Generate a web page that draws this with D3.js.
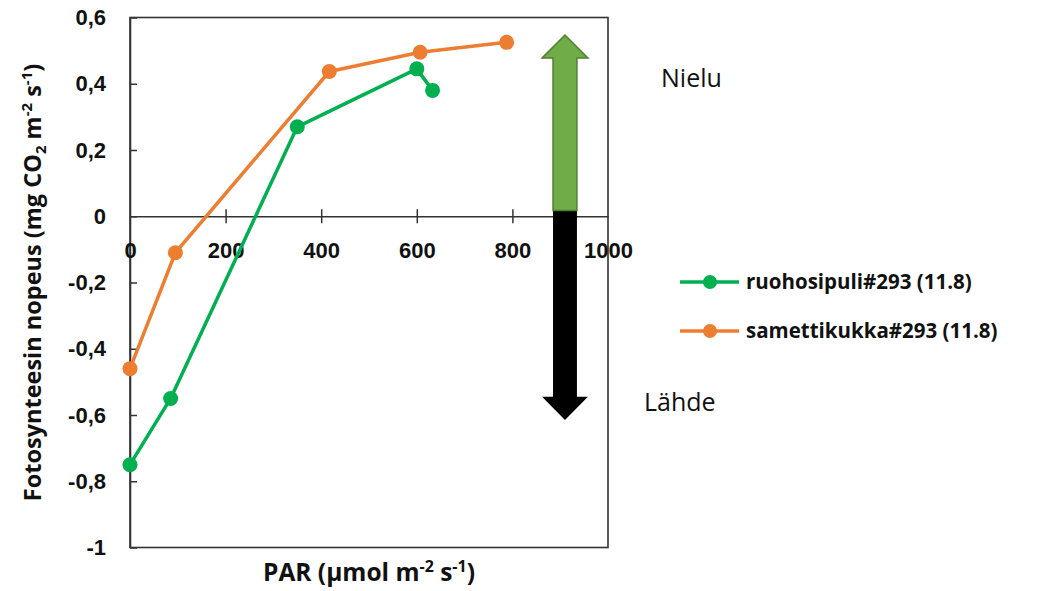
<!DOCTYPE html>
<html>
<head>
<meta charset="utf-8">
<script src="https://cdn.jsdelivr.net/npm/d3@7"></script>
<style>
  body { margin: 0; background: #fff; }
  svg { font-family: "Open Sans", Lato, sans-serif; }
</style>
</head>
<body>
<div id="chart"></div>
<script>
// series data
const seriesNames = ['ruohosipuli#293 (11.8)', 'samettikukka#293 (11.8)']
const seriesColors = ['#00B050', '#ED7D31']
const ruohoPAR = [0, 85, 350, 600, 633]
const ruohoRate = [-0.75, -0.55, 0.27, 0.445, 0.38]
const samettiPAR = [0, 95, 417, 607, 788]
const samettiRate = [-0.46, -0.11, 0.437, 0.495, 0.525]

// axis ticks
const xTicks = [0, 200, 400, 600, 800, 1000]
const yTicks = [0.6, 0.4, 0.2, 0, -0.2, -0.4, -0.6, -0.8, -1]
const yTickLabels = ['0,6', '0,4', '0,2', '0', '-0,2', '-0,4', '-0,6', '-0,8', '-1']

const width = 1043, height = 591
const svg = d3.select('#chart').append('svg')
  .attr('width', width).attr('height', height)

const x = d3.scaleLinear().domain([0, 1000]).range([130, 608])
const y = d3.scaleLinear().domain([-1, 0.6]).range([547.5, 17.5])

const axisColor = '#333'
const textColor = '#111'

//plot frame
svg.append('rect')
  .attr('x', x(0)).attr('y', y(0.6))
  .attr('width', x(1000) - x(0)).attr('height', y(-1) - y(0.6))
  .attr('fill', 'none').attr('stroke', axisColor).attr('stroke-width', 1.6)

// y axis, ticks pointing inside
const yAxis = svg.append('g').attr('transform', `translate(${x(0)},0)`)
  .call(d3.axisLeft(y).tickValues(yTicks)
    .tickFormat((d, i) => yTickLabels[i])
    .tickSizeInner(-7).tickSizeOuter(0).tickPadding(24))
yAxis.select('.domain').attr('stroke', axisColor).attr('stroke-width', 1.6)
yAxis.selectAll('.tick line').attr('stroke', axisColor).attr('stroke-width', 1.5)
yAxis.selectAll('text').attr('font-size', 22).attr('font-weight', 'bold').attr('fill', textColor)

// x axis sits on the zero line, ticks cross it
const xAxis = svg.append('g').attr('transform', `translate(0,${y(0)})`)
  .call(d3.axisBottom(x).tickValues(xTicks).tickFormat(d3.format('d'))
    .tickSizeInner(7).tickSizeOuter(0))
xAxis.select('.domain').attr('stroke', axisColor).attr('stroke-width', 1.6)
xAxis.selectAll('.tick line').attr('y1', -7).attr('stroke', axisColor).attr('stroke-width', 1.5)
xAxis.selectAll('.tick')
  .filter(d => d === 0 || d === 1000).select('line').remove()
xAxis.selectAll('text').attr('y', 42).attr('dy', 0)
  .attr('font-size', 22).attr('font-weight', 'bold').attr('fill', textColor)

// source / sink arrows (annotation, in data units)
const arrowX = 910, shaftHalf = 25, headHalf = 48
const sinkTop = 0.547, sinkHeadBase = 0.478, splitAt = 0.017
const sourceHeadBase = -0.545, sourceTip = -0.615

const arrowPath = (base, headBase, tip) => {
  let pts = [
    [x(arrowX - shaftHalf), y(base)],
    [x(arrowX - shaftHalf), y(headBase)],
    [x(arrowX - headHalf), y(headBase)],
    [x(arrowX), y(tip)],
    [x(arrowX + headHalf), y(headBase)],
    [x(arrowX + shaftHalf), y(headBase)],
    [x(arrowX + shaftHalf), y(base)]
  ]
  return d3.line()(pts) + 'Z'
}
svg.append('path').attr('d', arrowPath(splitAt, sourceHeadBase, sourceTip))
  .attr('fill', '#000')
svg.append('path').attr('d', arrowPath(splitAt, sinkHeadBase, sinkTop))
  .attr('fill', '#70AD47').attr('stroke', '#507E32').attr('stroke-width', 1.5)

// lines and markers
const series = [
  {name: seriesNames[0], color: seriesColors[0], values: ruohoPAR.map((p, i) => [p, ruohoRate[i]])},
  {name: seriesNames[1], color: seriesColors[1], values: samettiPAR.map((p, i) => [p, samettiRate[i]])}
]
const line = d3.line().x(d => x(d[0])).y(d => y(d[1]))

series.slice().reverse().forEach(s => {
  let g = svg.append('g')
  g.append('path').attr('d', line(s.values))
    .attr('fill', 'none').attr('stroke', s.color).attr('stroke-width', 3.5)
    .attr('stroke-linejoin', 'round')
  g.selectAll('circle').data(s.values).enter().append('circle')
    .attr('cx', d => x(d[0])).attr('cy', d => y(d[1])).attr('r', 7.5)
    .attr('fill', s.color)
})

// legend
const legend = svg.append('g').attr('transform', 'translate(680,282)')
  .selectAll('.legends').data(series).enter().append('g')
  .attr('transform', (d, i) => 'translate(0,' + i * 49 + ')')
legend.append('line').attr('x1', 0).attr('x2', 59)
  .attr('stroke', d => d.color).attr('stroke-width', 3.5)
legend.append('circle').attr('cx', 30).attr('r', 7).attr('fill', d => d.color)
legend.append('text').attr('x', 66).attr('y', 7)
  .attr('font-size', 20.5).attr('font-weight', 'bold').attr('fill', textColor)
  .text(d => d.name)

// axis titles
const yTitle = svg.append('text')
  .attr('transform', `translate(41,${(y(0.6) + y(-1)) / 2}) rotate(-90)`)
  .attr('text-anchor', 'middle').attr('font-size', 23.5).attr('font-weight', 'bold').attr('fill', textColor)
yTitle.append('tspan').text('Fotosynteesin nopeus (mg CO')
yTitle.append('tspan').attr('font-size', 15).attr('dy', 5).text('2')
yTitle.append('tspan').attr('dy', -5).text(' m')
yTitle.append('tspan').attr('font-size', 15).attr('dy', -9).text('-2')
yTitle.append('tspan').attr('dy', 9).text(' s')
yTitle.append('tspan').attr('font-size', 15).attr('dy', -9).text('-1')
yTitle.append('tspan').attr('dy', 9).text(')')

const xTitle = svg.append('text')
  .attr('x', (x(0) + x(1000)) / 2).attr('y', 581)
  .attr('text-anchor', 'middle').attr('font-size', 24.5).attr('font-weight', 'bold').attr('fill', textColor)
xTitle.append('tspan').text('PAR (µmol m')
xTitle.append('tspan').attr('font-size', 16).attr('dy', -9).text('-2')
xTitle.append('tspan').attr('dy', 9).text(' s')
xTitle.append('tspan').attr('font-size', 16).attr('dy', -9).text('-1')
xTitle.append('tspan').attr('dy', 9).text(')')

// sink / source labels
svg.append('text').attr('x', 661).attr('y', 87).attr('font-size', 25).attr('fill', textColor).text('Nielu')
svg.append('text').attr('x', 644).attr('y', 411).attr('font-size', 25).attr('fill', textColor).text('Lähde')
</script>
</body>
</html>
